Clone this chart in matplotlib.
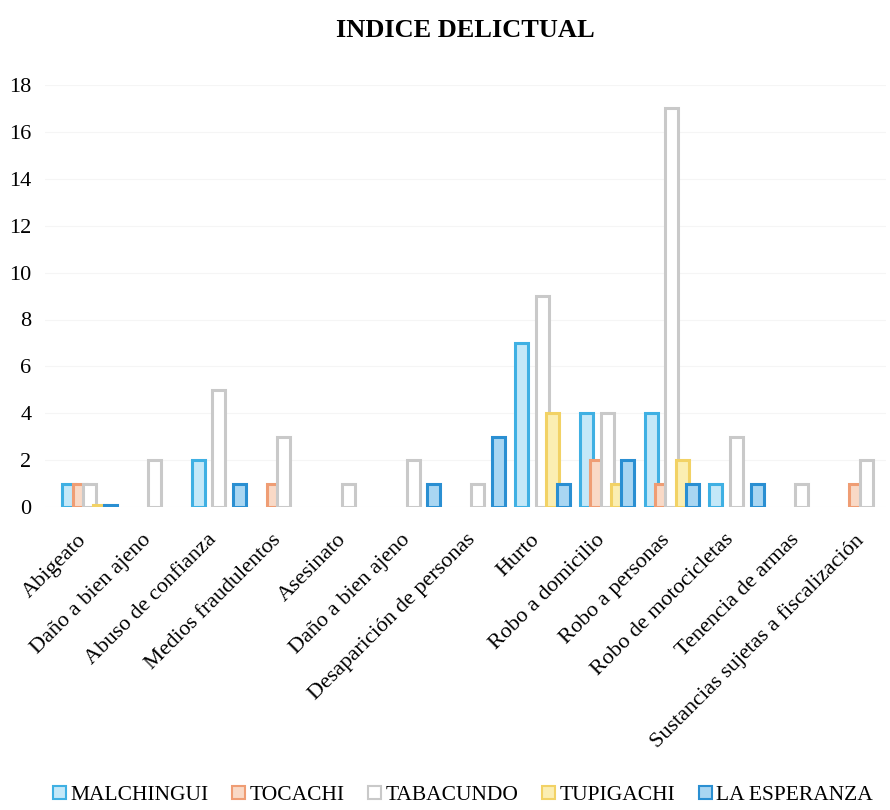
import matplotlib
matplotlib.use("Agg")
import matplotlib.pyplot as plt
import matplotlib.transforms as mtransforms
import numpy as np

plt.rcParams['font.family'] = ['Liberation Serif', 'DejaVu Serif']

categories = ["Abigeato", "Daño a bien ajeno", "Abuso de confianza", "Medios fraudulentos",
              "Asesinato", "Daño a bien ajeno", "Desaparición de personas", "Hurto",
              "Robo a domicilio", "Robo a personas", "Robo de motocicletas",
              "Tenencia de armas", "Sustancias sujetas a fiscalización"]

series = ["MALCHINGUI", "TOCACHI", "TABACUNDO", "TUPIGACHI", "LA ESPERANZA"]

malchingui = [1, 0, 2, 0, 0, 0, 0, 7, 4, 4, 1, 0, 0]
tocachi = [1, 0, 0, 1, 0, 0, 0, 0, 2, 1, 0, 0, 1]
tabacundo = [1, 2, 5, 3, 1, 2, 1, 9, 4, 17, 3, 1, 2]
tupigachi = [0.1, 0, 0, 0, 0, 0, 0, 4, 1, 2, 0, 0, 0]
la_esperanza = [0.1, 0, 1, 0, 0, 1, 3, 1, 2, 1, 1, 0, 0]

values = [malchingui, tocachi, tabacundo, tupigachi, la_esperanza]
faces = ["#c4e8f8", "#f9d9c6", "#ffffff", "#fbeeb2", "#a9d6f2"]
edges = ["#3fb0e3", "#ef9d74", "#c9c9c9", "#f2d265", "#2a8fd2"]

fig = plt.figure(figsize=(8.9, 8.1), dpi=100)
ax = fig.add_axes([0.051, 0.374, 0.944, 0.521])

x = np.arange(len(categories))
step = 0.16
width = 0.2
for i, vals in enumerate(values):
    v = np.array(vals, dtype=float)
    mask = v > 0
    ax.bar(x[mask] + (i - 2) * step, v[mask], width=width, color=faces[i],
           edgecolor=edges[i], linewidth=2.2, label=series[i], zorder=2 + i)

ax.set_ylim(0, 18)
ax.set_xlim(-0.68, 12.3)
ax.set_yticks(range(0, 19, 2))
ax.grid(axis='y', color='#f5f5f5', linewidth=0.8, zorder=0)
ax.set_axisbelow(True)
for s in ax.spines.values():
    s.set_visible(False)
ax.tick_params(length=0, labelsize=16, pad=10)
ax.tick_params(axis='x', pad=6)
ax.set_xticks(x)
ax.set_xticklabels(categories, rotation=45, ha='right', rotation_mode='anchor', fontsize=16)

# push the slanted labels a bit further down-left, like the original
offset = mtransforms.ScaledTranslation(-0.12, -0.15, fig.dpi_scale_trans)
for lbl in ax.get_xticklabels():
    lbl.set_transform(lbl.get_transform() + offset)

fig.text(0.523, 0.962, "INDICE DELICTUAL", ha='center', va='center',
         fontsize=19, fontweight='bold')

leg = fig.legend(loc='center', bbox_to_anchor=(0.52, 0.018), ncol=5, frameon=False,
                 fontsize=15.5, handlelength=0.6, handleheight=0.6, handletextpad=0.2,
                 columnspacing=1.1)
for h in leg.legend_handles:
    h.set_linewidth(1.5)

fig.savefig("out.png", dpi=100)
